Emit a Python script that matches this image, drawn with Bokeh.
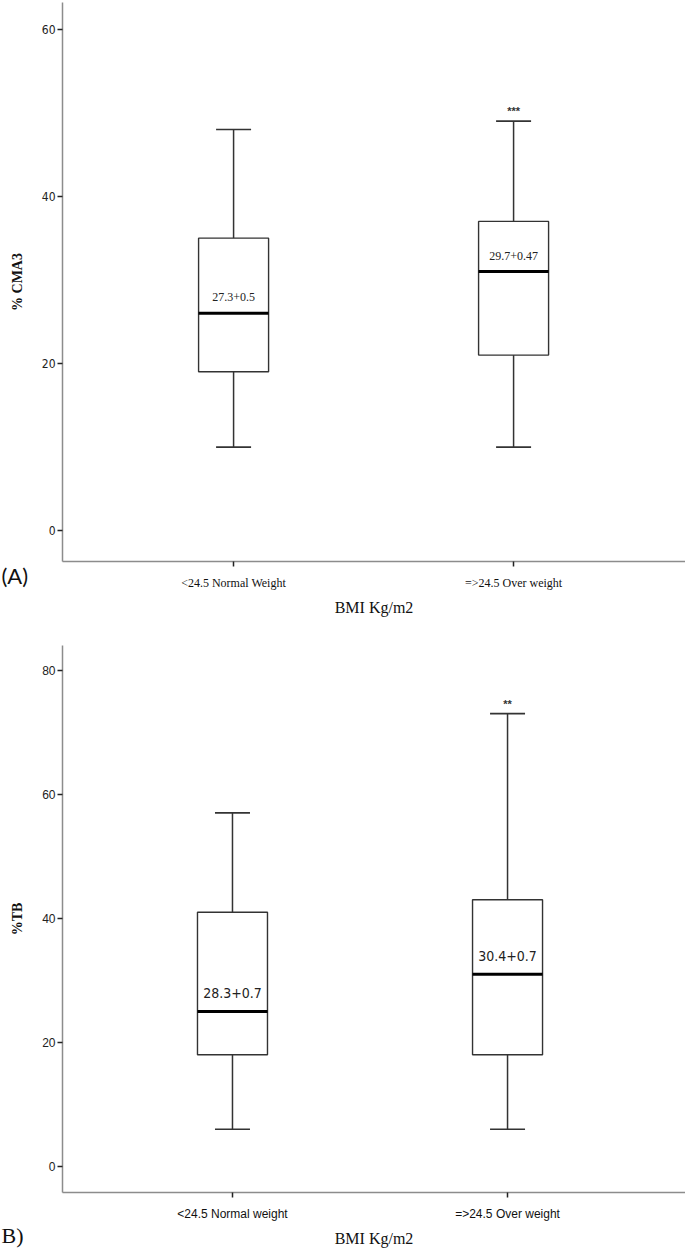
from bokeh.plotting import figure
from bokeh.layouts import column
from bokeh.models import Label, Title, FixedTicker, Range1d, ColumnDataSource
from bokeh.embed import file_html
from bokeh.resources import INLINE
from bokeh.core.properties import value

# ---------------- data ----------------
groups_A = ["<24.5 Normal Weight", "=>24.5 Over weight"]
low_A = [10, 10]
q1_A = [19, 21]
med_A = [26, 31]
q3_A = [35, 37]
high_A = [48, 49]
mean_A = ["27.3+0.5", "29.7+0.47"]
sig_A = ["", "***"]

groups_B = ["<24.5 Normal weight", "=>24.5 Over weight"]
low_B = [6, 6]
q1_B = [18, 18]
med_B = [25, 31]
q3_B = [41, 43]
high_B = [57, 73]
mean_B = ["28.3+0.7", "30.4+0.7"]
sig_B = ["", "**"]

yticks_A = [0, 20, 40, 60]
yticks_B = [0, 20, 40, 60, 80]

SERIF = "'Liberation Serif', 'Times New Roman', serif"
NARROW = "'Liberation Sans Narrow', 'DejaVu Sans Condensed', 'Liberation Sans', sans-serif"
SANS = "'Liberation Sans', Arial, sans-serif"

W = 685
LEFT = 62


def panel(groups, low, q1, med, q3, high, means, sigs, yticks, xr, yr,
          height, border_top, border_bottom, ylabel,
          xtick_font, ytick_font, mean_font, mean_size, mean_off):
    p = figure(width=W, height=height, output_backend="svg", toolbar_location=None,
               x_range=Range1d(*xr), y_range=Range1d(*yr),
               min_border_left=LEFT, min_border_right=0,
               min_border_top=border_top, min_border_bottom=border_bottom)
    p.outline_line_color = None
    p.xgrid.visible = False
    p.ygrid.visible = False

    frame_w = W - LEFT
    frame_h = height - border_top - border_bottom
    ppx = frame_w / (xr[1] - xr[0])
    ppy = frame_h / (yr[1] - yr[0])

    xs = list(range(1, len(groups) + 1))
    bw = 70 / ppx
    src = ColumnDataSource(dict(
        x=xs, left=[x - bw / 2 for x in xs], right=[x + bw / 2 for x in xs],
        cl=[x - bw / 4 for x in xs], cr=[x + bw / 4 for x in xs],
        low=low, q1=q1, med=med, q3=q3, high=high,
        ml=[m + mean_off for m in med], means=means, sigs=sigs,
        sy=[h + 4 / ppy for h in high]))

    lc = "#333333"
    p.segment(x0="x", y0="q3", x1="x", y1="high", source=src, line_color=lc, line_width=1.5)
    p.segment(x0="x", y0="low", x1="x", y1="q1", source=src, line_color=lc, line_width=1.5)
    p.segment(x0="cl", y0="high", x1="cr", y1="high", source=src, line_color=lc, line_width=1.7)
    p.segment(x0="cl", y0="low", x1="cr", y1="low", source=src, line_color=lc, line_width=1.7)
    p.quad(left="left", right="right", bottom="q1", top="q3", source=src,
           fill_color="white", line_color=lc, line_width=1.4)
    p.segment(x0="left", y0="med", x1="right", y1="med", source=src, line_color="black", line_width=3)
    p.text(x="x", y="ml", text="means", source=src, text_align="center", text_baseline="middle",
           text_font=value(mean_font), text_font_size=mean_size, text_color="#222222")
    p.text(x="x", y="sy", text="sigs", source=src, text_align="center", text_baseline="bottom",
           text_font=value(SANS), text_font_size="11px", text_font_style="bold",
           text_color="#333333")

    # axes
    for ax in (p.xaxis[0], p.yaxis[0]):
        ax.axis_line_color = "#8c8c8c"
        ax.axis_line_width = 1.5
        ax.major_tick_line_color = "#222222"
        ax.major_tick_line_width = 1.5
        ax.minor_tick_line_color = None
        ax.major_tick_in = 0
        ax.major_tick_out = 5
    p.xaxis.ticker = FixedTicker(ticks=xs)
    p.xaxis.major_label_overrides = {x: g for x, g in zip(xs, groups)}
    p.xaxis.major_label_text_font = xtick_font
    p.xaxis.major_label_text_font_size = "12px"
    p.xaxis.major_label_text_color = "#111111"
    p.xaxis.major_label_standoff = 9
    p.xaxis.axis_label = "BMI Kg/m2"
    p.xaxis.axis_label_text_font = SERIF
    p.xaxis.axis_label_text_font_style = "normal"
    p.xaxis.axis_label_text_font_size = "16px"
    p.xaxis.axis_label_text_color = "#111111"
    p.xaxis.axis_label_standoff = 6

    p.yaxis.ticker = FixedTicker(ticks=yticks)
    p.yaxis.major_label_text_font = ytick_font
    p.yaxis.major_label_text_font_size = "12px"
    p.yaxis.major_label_text_color = "#222222"
    p.yaxis.major_label_standoff = 2
    p.yaxis.axis_label = ylabel
    p.yaxis.axis_label_text_font = SERIF
    p.yaxis.axis_label_text_font_style = "bold"
    p.yaxis.axis_label_text_font_size = "14px"
    p.yaxis.axis_label_text_color = "#111111"
    p.yaxis.axis_label_standoff = 14
    return p, ppx, ppy


# ---- panel A ----
xrA, yrA = (0.389, 2.614), (-3.7, 63.2)
pA, ppxA, ppyA = panel(groups_A, low_A, q1_A, med_A, q3_A, high_A, mean_A, sig_A, yticks_A,
                       xrA, yrA, 645, 2, 84, "% CMA3",
                       SERIF, NARROW, SERIF, "12px", 1.9)
# tag in a side panel (not clipped to the frame)
pA.add_layout(Label(x=xrA[0] - (LEFT - 1) / ppxA, y=yrA[0] - 14 / ppyA, text="(A)",
                    text_font="Lato, 'Open Sans', sans-serif", text_font_size="22px",
                    text_baseline="middle", text_color="#111111"), "below")

# ---- panel B ----
xrB, yrB = (0.382, 2.647), (-4.2, 84.0)
pB, ppxB, ppyB = panel(groups_B, low_B, q1_B, med_B, q3_B, high_B, mean_B, sig_B, yticks_B,
                       xrB, yrB, 611, 0, 64, "%TB",
                       SANS, SANS, NARROW, "14px", 2.9)
pB.add_layout(Title(text="B)", align="left", offset=-(LEFT - 1), vertical_align="top",
                    standoff=-53, text_font=SERIF, text_font_size="22px",
                    text_font_style="normal", text_color="#111111"), "below")

layout = column(pA, pB)
open("out.html", "w").write(file_html(layout, INLINE))
